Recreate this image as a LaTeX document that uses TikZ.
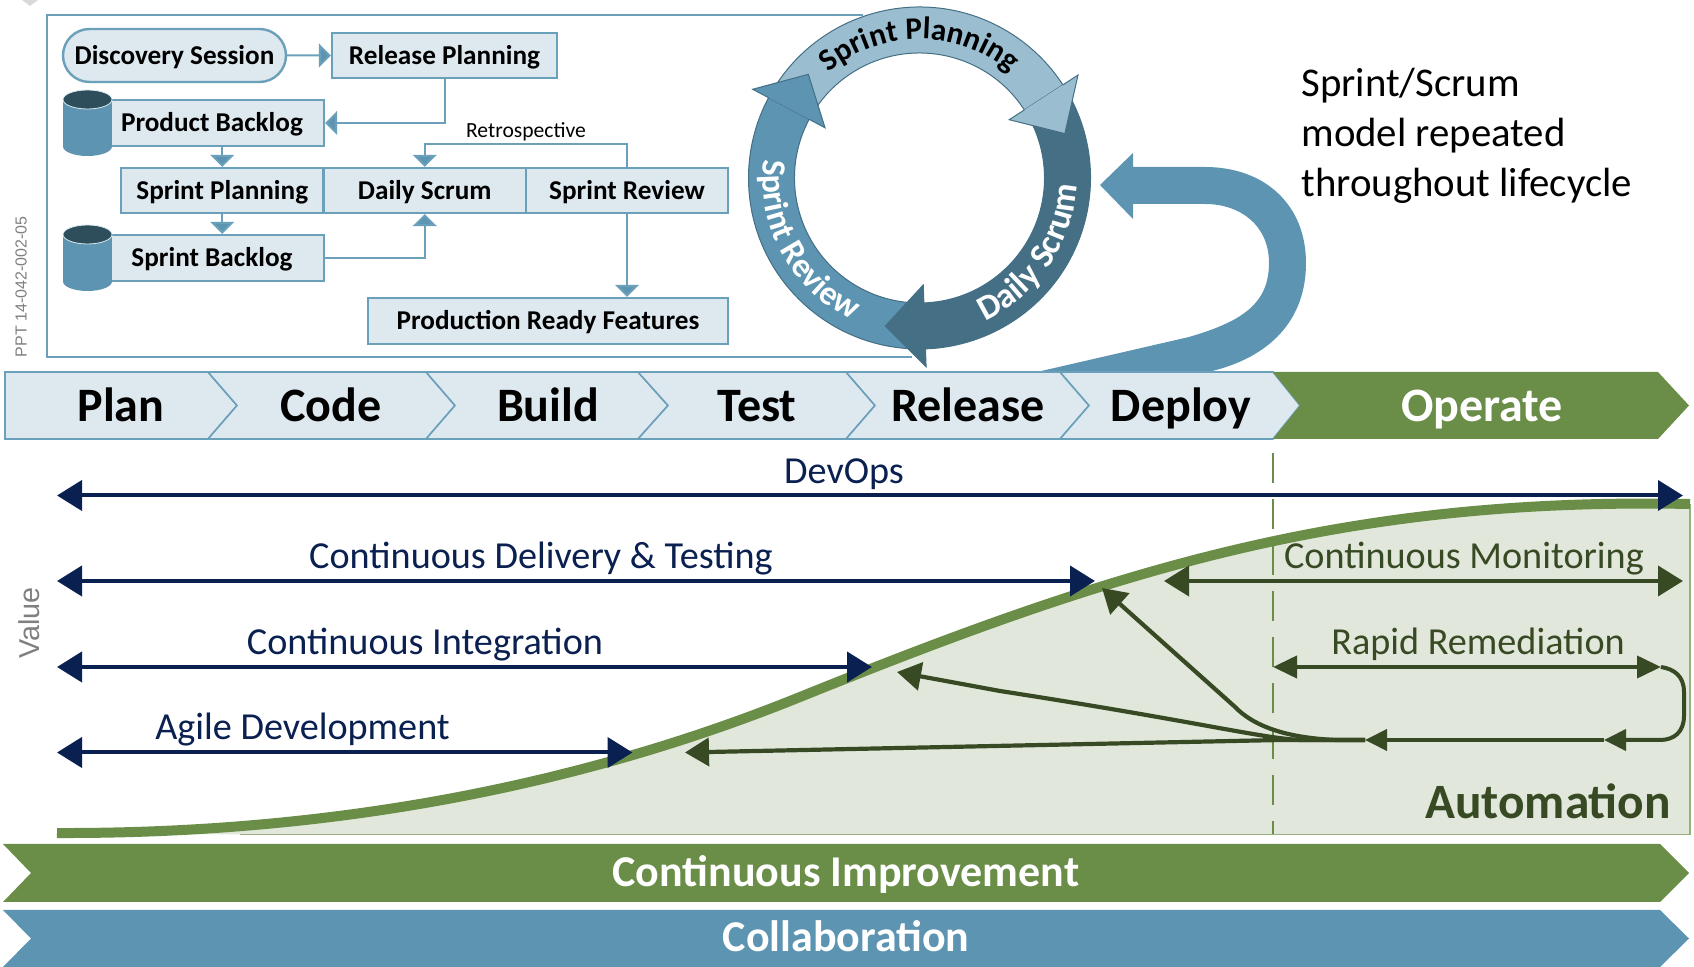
\documentclass[tikz,border=0pt]{standalone}
\usepackage{fontspec}
\setmainfont{Carlito}
\newfontfamily\arialfont{Liberation Sans}
\usetikzlibrary{arrows.meta,shapes.misc,decorations.text}
\definecolor{paleblue}{HTML}{DEE8EF}
\definecolor{midblue}{HTML}{5C94B1}
\definecolor{lineblue}{HTML}{6BA0BA}
\definecolor{skyblue}{HTML}{9ABDD0}
\definecolor{deepblue}{HTML}{446F84}
\definecolor{drumtop}{HTML}{2F4E5C}
\definecolor{navyblue}{HTML}{0A2050}
\definecolor{leaf}{HTML}{6A8E47}
\definecolor{paleleaf}{HTML}{E1E7DB}
\definecolor{darkleaf}{HTML}{374A24}
\begin{document}
\begin{tikzpicture}[x=0.5pt, y=-0.5pt,
    every node/.style={align=center, inner sep=0pt},
    flowbox/.style={draw=lineblue, line width=1.2pt, fill=paleblue, text=black, text height=10.5pt, text depth=1.5pt, font=\bfseries\fontsize{13.6}{15}\selectfont},
    flowarrow/.style={draw=lineblue, line width=1pt, -{Triangle[length=6pt,width=12pt,fill=midblue]}},
    drumend/.style={x radius=24.5, y radius=9.5},
    stage/.style={draw=lineblue, line width=0.8pt, fill=paleblue},
    stagelabel/.style={text=black, text height=19pt, text depth=3.4pt, font=\bfseries\fontsize{24}{26}\selectfont},
    arcbody/.style={draw=deepblue, line width=0.5pt},
    arctext/.style={decorate, decoration={text along path, text align=center, text={#1}}},
    spanlabel/.style={text height=14.5pt, text depth=1.5pt, font=\fontsize{19.1}{21}\selectfont},
    navyspan/.style={draw=navyblue, line width=2pt, {Triangle[length=12.5pt,width=15pt]}-{Triangle[length=12.5pt,width=15pt]}},
    leafspan/.style={draw=darkleaf, line width=2pt, {Triangle[length=12.5pt,width=15pt]}-{Triangle[length=12.5pt,width=15pt]}},
    leafline/.style={draw=darkleaf, line width=2pt, -{Triangle[length=11pt,width=10.5pt]}},
    leafbranch/.style={draw=darkleaf, line width=2.1pt, -{Triangle[length=12pt,width=14pt]}},
    barlabel/.style={text=white, text height=16.5pt, text depth=4pt, font=\bfseries\fontsize{22}{24}\selectfont}]
  \useasboundingbox (0,0) rectangle (1694,967);
  \fill[black!15] (22,0) -- (38,0) -- (30,6) -- cycle;
  \node[rotate=90, text=black!50, font=\arialfont\fontsize{8}{9}\selectfont] (tag) at (21,287) {PPT 14-042-002-05};

  % Sprint frame
  \draw[draw=lineblue, line width=1.2pt] (863,15) -- (47,15) -- (47,357) -- (912,357);
  \node[flowbox, rounded rectangle, minimum width=111.5pt, minimum height=26.5pt] (discovery) at (174.5,55.5) {Discovery Session};
  \node[flowbox, minimum width=112.5pt, minimum height=22.5pt] (release) at (444.5,55.5) {Release Planning};
  \node[flowbox, minimum width=112pt, minimum height=23pt] (product) at (212,123) {Product Backlog};
  \node[flowbox, minimum width=101.25pt, minimum height=22.5pt] (planning) at (222.25,190.5) {Sprint Planning};
  \node[flowbox, minimum width=101.25pt, minimum height=22.5pt] (scrum) at (424.75,190.5) {Daily Scrum};
  \node[flowbox, minimum width=101pt, minimum height=22.5pt] (review) at (627,190.5) {Sprint Review};
  \node[flowbox, minimum width=112pt, minimum height=23pt] (backlog) at (212,258) {Sprint Backlog};
  \node[flowbox, minimum width=180pt, minimum height=23pt] (ready) at (548,321) {Production Ready Features};
  % Drums
  \fill[midblue] (63,99.5) rectangle (112,146.5);
  \fill[midblue] (87.5,146.5) ellipse [drumend];
  \filldraw[draw=paleblue, fill=drumtop, line width=0.4pt] (87.5,99.5) ellipse [drumend];
  \fill[midblue] (63,234.5) rectangle (112,281.5);
  \fill[midblue] (87.5,281.5) ellipse [drumend];
  \filldraw[draw=paleblue, fill=drumtop, line width=0.4pt] (87.5,234.5) ellipse [drumend];
  \node[font=\fontsize{10.8}{12}\selectfont] (retro) at (526,132) {Retrospective};
  \draw[flowarrow] (discovery) -- (release);
  \draw[flowarrow] (release.south) |- (product.east);
  \draw[flowarrow] (planning.north |- product.south) -- (planning.north);
  \draw[flowarrow] (planning.south) -- (planning.south |- backlog.north);
  \draw[flowarrow] (review.north) -- ++(0,-23) -| (scrum.north);
  \draw[flowarrow] (backlog.east) -| (scrum.south);
  \draw[flowarrow] (review.south) -- (review.south |- ready.north);

  % Sprint wheel
  \begin{scope}[shift={(919.5,178)}, y=0.5pt]
    \path[fill=white] (0:125) arc (0:360:125);
    \filldraw[arcbody, fill=skyblue] (150:171) arc (150:33:171) -- (33:125) arc (33:150:125) -- cycle;
    \filldraw[arcbody, fill=deepblue] (31:171) arc (31:-88:171) -- (-88:125) arc (-88:31:125) -- cycle;
    \filldraw[arcbody, fill=midblue] (-90:171) arc (-90:-208:171) -- (-208:125) arc (-208:-90:125) -- cycle;
    \fill[skyblue] (33:189) -- (17:152) -- (33:107) -- cycle;
    \draw[arcbody] (33:171) -- (33:189) -- (17:152) -- (33:107) -- (33:125);
    \fill[deepblue] (-88:189) -- (-103:152) -- (-88:107) -- cycle;
    \draw[arcbody] (-88:171) -- (-88:189) -- (-103:152) -- (-88:107) -- (-88:125);
    \fill[midblue] (152:189) -- (137:152) -- (152:107) -- cycle;
    \draw[arcbody] (152:171) -- (152:189) -- (137:152) -- (152:107) -- (152:125);
    \path[arctext={|\bfseries\fontsize{15.6}{18}\selectfont\color{black}|Sprint Planning}] (140:139) arc (140:40:139);
    \path[arctext={|\bfseries\fontsize{17.5}{19}\selectfont\color{white}|Daily Scrum}] (-76:157) arc (-76:8:157);
    \path[arctext={|\bfseries\fontsize{17}{19}\selectfont\color{white}|Sprint Review}] (166:157) arc (166:252:157);
  \end{scope}
  \fill[midblue] (1100,185) -- (1133,153) -- (1133,167) -- (1205,167) .. controls (1265,167) and (1306,205) .. (1306,263) .. controls (1306,320) and (1270,358) .. (1208,372) -- (1037,372) -- (1189,337) .. controls (1240,322) and (1269,305) .. (1269,263) .. controls (1269,225) and (1240,204) .. (1205,204) -- (1133,204) -- (1133,219) -- cycle;
  \node[anchor=west, text=black, align=left, font=\fontsize{20.4}{25}\selectfont] (repeated) at (1301,136) {Sprint/Scrum\\model repeated\\throughout lifecycle};

  % Stages
  \draw[stage] (5,372) -- (208,372) -- (237,405.5) -- (208,439) -- (5,439) -- cycle;
  \draw[stage] (208,372) -- (426,372) -- (455,405.5) -- (426,439) -- (208,439) -- (237,405.5) -- cycle;
  \draw[stage] (426,372) -- (638,372) -- (668,405.5) -- (638,439) -- (426,439) -- (455,405.5) -- cycle;
  \draw[stage] (638,372) -- (846,372) -- (875,405.5) -- (846,439) -- (638,439) -- (668,405.5) -- cycle;
  \draw[stage] (846,372) -- (1060,372) -- (1089,405.5) -- (1060,439) -- (846,439) -- (875,405.5) -- cycle;
  \draw[stage] (1060,372) -- (1273,372) -- (1300,405.5) -- (1273,439) -- (1060,439) -- (1089,405.5) -- cycle;
  \fill[leaf] (1273,372) -- (1658,372) -- (1689,405.5) -- (1658,439) -- (1273,439) -- (1300,405.5) -- cycle;
  \node[stagelabel] (plan) at (121,405.5) {Plan};
  \node[stagelabel] (code) at (331,405.5) {Code};
  \node[stagelabel] (build) at (548,405.5) {Build};
  \node[stagelabel] (test) at (757,405.5) {Test};
  \node[stagelabel] (releasestage) at (968,405.5) {Release};
  \node[stagelabel] (deploy) at (1181,405.5) {Deploy};
  \node[stagelabel, text=white] (operate) at (1482,405.5) {Operate};

  % Value curve
  \fill[paleleaf] (57,833) .. controls (320,834) and (570,790) .. (800,697) .. controls (1110,572) and (1340,497) .. (1690,504) -- (1690,834.5) -- (57,834.5) -- cycle;
  \draw[leaf!70!white, line width=0.8pt] (240,834.5) -- (1690,834.5) -- (1690,504);
  \draw[leaf, line width=0.8pt, dash pattern=on 15pt off 8pt] (1273,453) -- (1273,834.5);
  \draw[leaf, line width=5pt] (57,833) .. controls (320,834) and (570,790) .. (800,697) .. controls (1110,572) and (1340,497) .. (1690,504);
  \node[rotate=90, text=black!50, font=\arialfont\fontsize{14.4}{16}\selectfont] (value) at (29,623) {Value};

  % Spans
  \coordinate (devopsL) at (57,495.5);
  \coordinate (devopsR) at (1683,495.5);
  \coordinate (deliveryL) at (57,581);
  \coordinate (deliveryR) at (1095,581);
  \coordinate (integrationL) at (57,667);
  \coordinate (integrationR) at (872,667);
  \coordinate (agileL) at (57,752.5);
  \coordinate (agileR) at (632.5,752.5);
  \coordinate (monitorL) at (1164,581);
  \coordinate (monitorR) at (1683,581);
  \coordinate (rapidL) at (1273,667);
  \coordinate (rapidR) at (1661,667);
  \draw[navyspan] (devopsL) -- (devopsR);
  \draw[navyspan] (deliveryL) -- (deliveryR);
  \draw[navyspan] (integrationL) -- (integrationR);
  \draw[navyspan] (agileL) -- (agileR);
  \draw[leafspan] (monitorL) -- (monitorR);
  \draw[leafspan, {Triangle[length=12pt,width=11pt]}-{Triangle[length=12pt,width=11pt]}] (rapidL) -- (rapidR);
  \node[spanlabel, text=navyblue] (devops) at (844,471) {DevOps};
  \node[spanlabel, text=navyblue] (delivery) at (541,556) {Continuous Delivery \& Testing};
  \node[spanlabel, text=navyblue] (integration) at (425,642) {Continuous Integration};
  \node[spanlabel, text=navyblue] (agile) at (302.5,727) {Agile Development};
  \node[spanlabel, text=darkleaf] (monitor) at (1464,556) {Continuous Monitoring};
  \node[spanlabel, text=darkleaf] (rapid) at (1478,642) {Rapid Remediation};
  \node[text=darkleaf, font=\bfseries\fontsize{24.7}{27}\selectfont] (automation) at (1548,801) {Automation};

  % Feedback lines
  \coordinate (loopA) at (1604,740);
  \coordinate (loopB) at (1365,740);
  \coordinate (agileT) at (685,752.5);
  \coordinate (integrationT) at (897,672);
  \coordinate (deliveryT) at (1102,588);
  \draw[leafline] (rapidR) .. controls (1674,669) and (1684,676) .. (1684,692) -- (1684,716) .. controls (1684,732) and (1674,740) .. (1660,740) -- (loopA);
  \draw[leafline] (loopA) -- (loopB);
  \draw[leafbranch] (loopB) -- (1280,740) -- (agileT);
  \draw[leafbranch] (loopB) -- (1300,740) .. controls (1260,738) and (1200,722) .. (1000,691) -- (integrationT);
  \draw[leafbranch] (loopB) -- (1336,740) .. controls (1290,738) and (1255,728) .. (1234,706) -- (deliveryT);

  % Bottom bars
  \fill[leaf] (3,844) -- (1660,844) -- (1689,873) -- (1660,902) -- (3,902) -- (31,873) -- cycle;
  \fill[midblue] (3,910) -- (1660,910) -- (1689,938.5) -- (1660,967) -- (3,967) -- (31,938.5) -- cycle;
  \node[barlabel] (improvement) at (846,874) {Continuous Improvement};
  \node[barlabel] (collaboration) at (846,939) {Collaboration};
\end{tikzpicture}
\end{document}
